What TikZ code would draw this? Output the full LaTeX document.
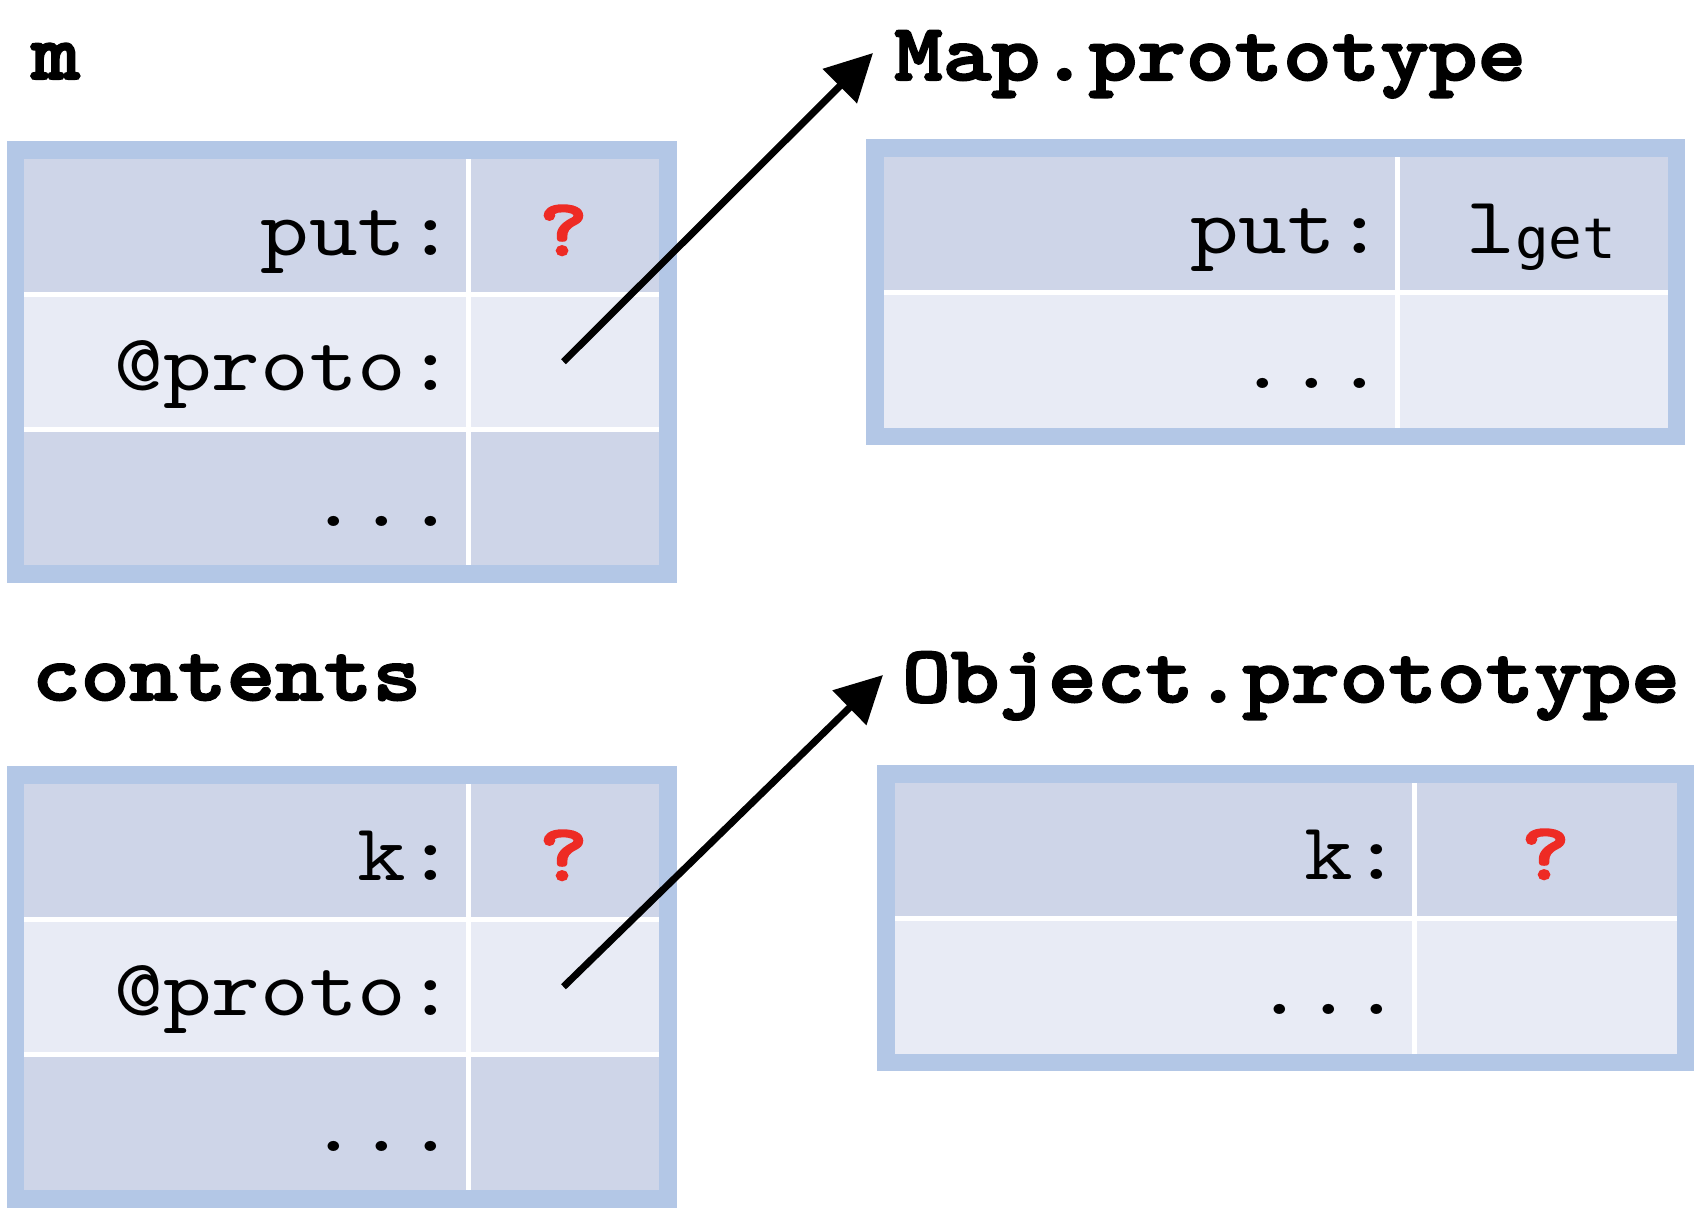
\documentclass[tikz,border=0pt]{standalone}
\usepackage{fontspec}
\setmonofont{lmmono10-regular.otf}[FakeStretch=1.143, BoldFont=lmmonolt10-bold.otf,
    BoldFeatures={FakeBold=2.5}]
\newfontfamily\getfont{DejaVu Sans Mono}
\usetikzlibrary{positioning,fit,arrows.meta}
\definecolor{framebl}{RGB}{179,199,230}
\definecolor{rowdark}{RGB}{206,213,232}
\definecolor{rowlight}{RGB}{232,235,245}
\definecolor{qred}{RGB}{238,43,36}
\tikzset{
    cell/.style={inner ysep=0pt, outer sep=0pt, minimum height=135.5pt,
        text height=58pt, text depth=0pt, font=\fontsize{81}{97}\selectfont\ttfamily},
    keycell/.style={cell, text width=#1, align=right, inner xsep=13pt},
    valcell/.style={cell, minimum width=#1, inner xsep=0pt},
    darkrow/.style={fill=rowdark},
    lightrow/.style={fill=rowlight},
    qmark/.style={text=qred, font=\fontsize{81}{97}\selectfont\ttfamily\bfseries},
    gridline/.style={draw=white, line width=5pt},
    objframe/.style={draw=framebl, line width=17.5pt, inner sep=8.75pt},
    objname/.style={anchor=base west, inner sep=0pt,
        font=\fontsize{81}{97}\selectfont\ttfamily\bfseries},
    ptr/.style={draw, line width=7pt, -{Triangle[length=47pt,width=47pt]}},
}

\begin{document}
\begin{tikzpicture}[x=1pt,y=1pt]
    \useasboundingbox (0,0) rectangle (1706,-1216);
    % object m
    \node[keycell=418pt, darkrow, anchor=north west] (m-put) at (24,-158.5) {put:};
    \node[valcell=191pt, darkrow, qmark, right=0pt of m-put] (m-putv) {?};
    \node[keycell=418pt, lightrow, below=0pt of m-put] (m-proto) {@proto:};
    \node[valcell=191pt, lightrow, right=0pt of m-proto] (m-protov) {};
    \node[keycell=418pt, darkrow, below=0pt of m-proto] (m-more) {...};
    \node[valcell=191pt, darkrow, right=0pt of m-more] (m-morev) {};
    \draw[gridline] (m-put.north east) -- (m-more.south east);
    \draw[gridline] (m-put.south west) -- (m-putv.south east);
    \draw[gridline] (m-proto.south west) -- (m-protov.south east);
    \node[objframe, fit=(m-put)(m-morev)] (m-box) {};
    \node[objname] (m-lbl) at (31,-79) {m};
    % object contents
    \node[keycell=418pt, darkrow, anchor=north west] (c-k) at (24,-783.5) {k:};
    \node[valcell=191pt, darkrow, qmark, right=0pt of c-k] (c-kv) {?};
    \node[keycell=418pt, lightrow, below=0pt of c-k] (c-proto) {@proto:};
    \node[valcell=191pt, lightrow, right=0pt of c-proto] (c-protov) {};
    \node[keycell=418pt, darkrow, below=0pt of c-proto] (c-more) {...};
    \node[valcell=191pt, darkrow, right=0pt of c-more] (c-morev) {};
    \draw[gridline] (c-k.north east) -- (c-more.south east);
    \draw[gridline] (c-k.south west) -- (c-kv.south east);
    \draw[gridline] (c-proto.south west) -- (c-protov.south east);
    \node[objframe, fit=(c-k)(c-morev)] (c-box) {};
    \node[objname] (c-lbl) at (32,-700) {contents};
    % Map.prototype
    \node[keycell=488pt, darkrow, anchor=north west] (map-put) at (883.5,-156.5) {put:};
    \node[valcell=270pt, darkrow, right=0pt of map-put] (map-putv)
        {\hspace{18pt}l\raisebox{-5pt}{\fontsize{56}{60}\selectfont\getfont get}};
    \node[keycell=488pt, lightrow, below=0pt of map-put] (map-more) {...};
    \node[valcell=270pt, lightrow, right=0pt of map-more] (map-morev) {};
    \draw[gridline] (map-put.north east) -- (map-more.south east);
    \draw[gridline] (map-put.south west) -- (map-putv.south east);
    \node[objframe, fit=(map-put)(map-morev)] (map-box) {};
    \node[objname] (map-lbl) at (894,-80) {Map.prototype};
    % Object.prototype
    \node[keycell=494pt, darkrow, anchor=north west] (obj-k) at (894.5,-782.5) {k:};
    \node[valcell=262pt, darkrow, qmark, right=0pt of obj-k] (obj-kv) {?};
    \node[keycell=494pt, lightrow, below=0pt of obj-k] (obj-more) {...};
    \node[valcell=262pt, lightrow, right=0pt of obj-more] (obj-morev) {};
    \draw[gridline] (obj-k.north east) -- (obj-more.south east);
    \draw[gridline] (obj-k.south west) -- (obj-kv.south east);
    \node[objframe, fit=(obj-k)(obj-morev)] (obj-box) {};
    \node[objname] (obj-lbl) at (902,-702) {Object.prototype};
    % prototype pointers
    \coordinate (map-in) at ([xshift=-21pt,yshift=27pt]map-lbl.base west);
    \coordinate (obj-in) at ([xshift=-19pt,yshift=27pt]obj-lbl.base west);
    \draw[ptr] (m-protov.center) -- (map-in);
    \draw[ptr] (c-protov.center) -- (obj-in);
\end{tikzpicture}
\end{document}
